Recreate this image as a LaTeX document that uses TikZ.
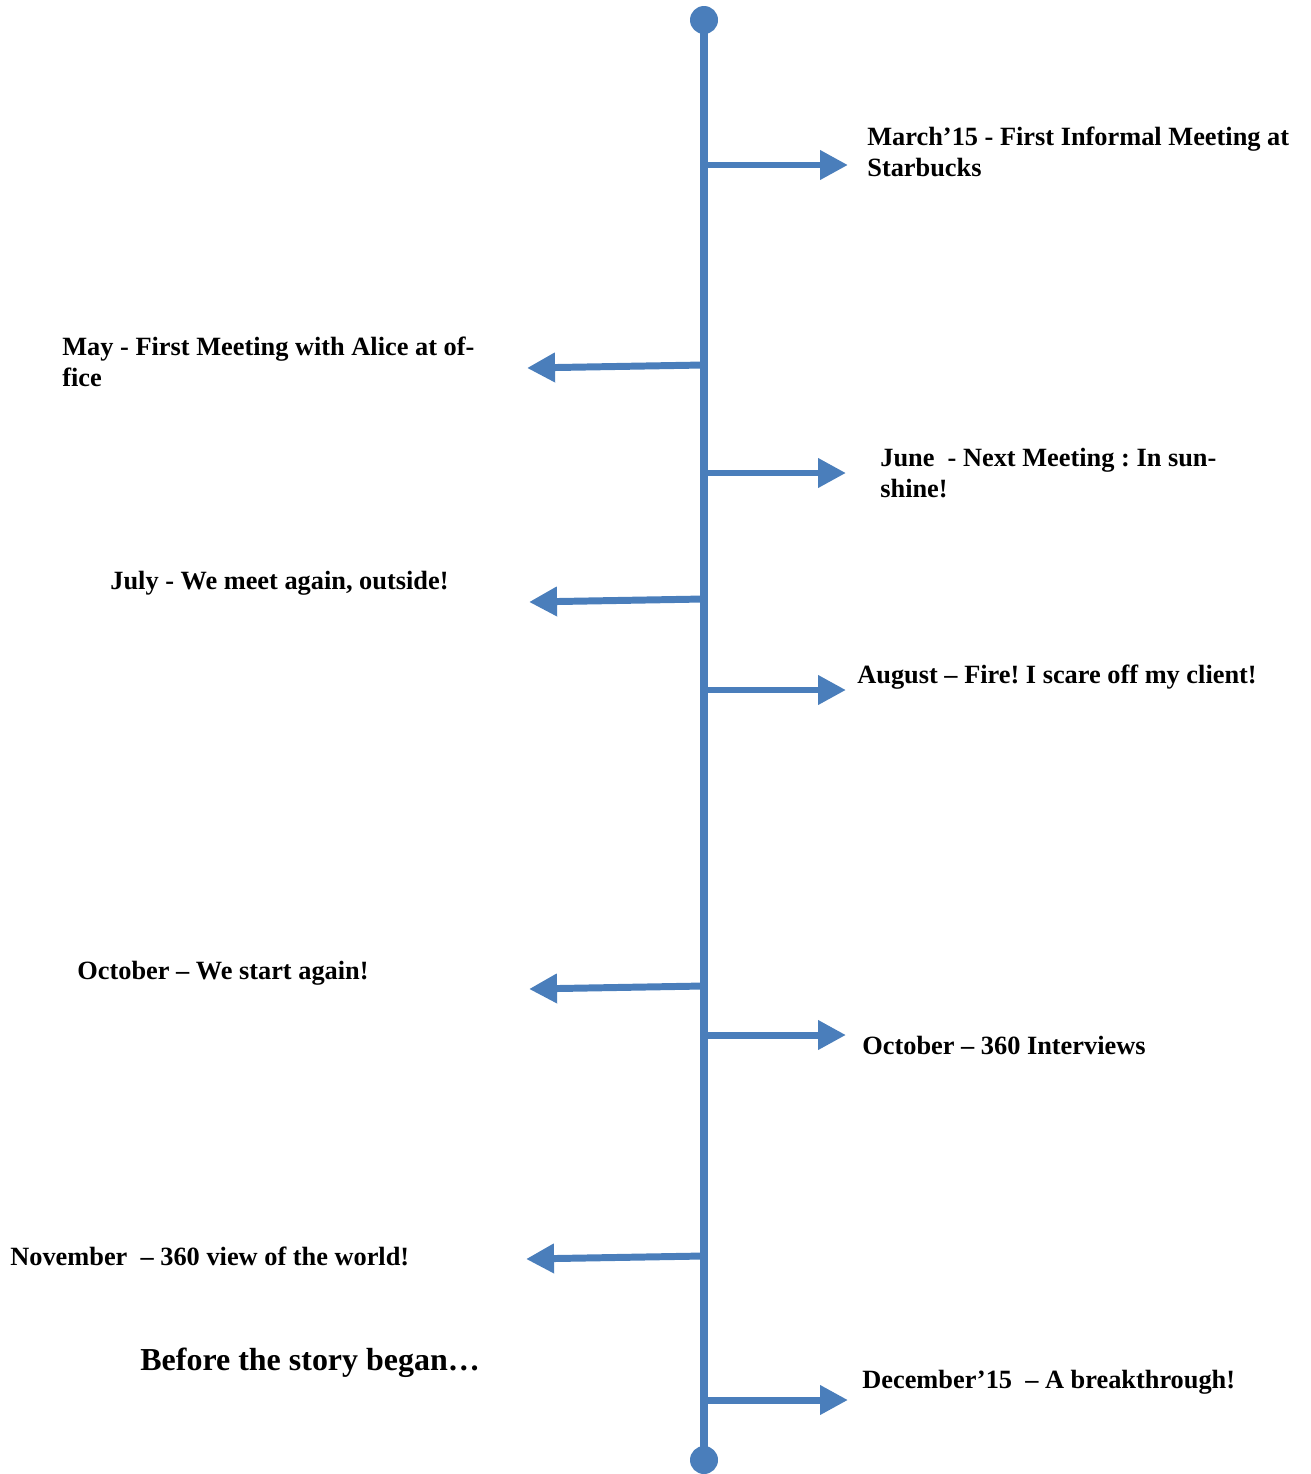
\documentclass[tikz,border=0pt]{standalone}
\usepackage{fontspec}
\setmainfont{Liberation Serif}
\frenchspacing
\usetikzlibrary{arrows.meta}
\definecolor{tlblue}{RGB}{74,126,187}
\tikzset{
  spine/.style={line width=8pt*0.5669,tlblue},
  evarr/.style={-{Triangle[length=0.56cm,width=0.56cm]},line width=7pt*0.5669,tlblue},
  enddot/.style={circle,fill=tlblue,minimum size=0.56cm,inner sep=0pt},
  evlbl/.style={anchor=base west,align=left,inner sep=0pt,
    font=\bfseries\fontsize{15}{17.2}\selectfont},
}

\begin{document}
\begin{tikzpicture}[x=0.02cm,y=-0.02cm]
  \useasboundingbox (0,0) rectangle (1311,1474);
  % the time line
  \node[enddot] (top) at (704,20) {};
  \node[enddot] (bot) at (704,1460) {};
  \draw[spine] (top.center) -- (bot.center);
  % right-hand events
  \coordinate (r1) at (704,165);  \coordinate (r1e) at (848,165);
  \coordinate (r2) at (704,473);  \coordinate (r2e) at (846,473);
  \coordinate (r3) at (704,690);  \coordinate (r3e) at (846,690);
  \coordinate (r4) at (704,1035); \coordinate (r4e) at (846,1035);
  \coordinate (r5) at (704,1400); \coordinate (r5e) at (848,1400);
  \foreach \i in {1,...,5}{\draw[evarr] (r\i) -- (r\i e);}
  % left-hand events
  \coordinate (l1) at (704,365);  \coordinate (l1e) at (527,368);
  \coordinate (l2) at (704,599);  \coordinate (l2e) at (529,602);
  \coordinate (l3) at (704,986);  \coordinate (l3e) at (529,989);
  \coordinate (l4) at (704,1256); \coordinate (l4e) at (526,1259);
  \foreach \i in {1,...,4}{\draw[evarr] (l\i) -- (l\i e);}
  % labels (two-line ones sit on their last line)
  \node[evlbl] (mar) at (867,176) {March’15 - First Informal Meeting at\\Starbucks};
  \node[evlbl] (may) at (62,386) {May - First Meeting with Alice at of-\\fice};
  \node[evlbl] (jun) at (880,497) {June\ \ - Next Meeting : In sun-\\shine!};
  \node[evlbl] (jul) at (110,589) {July - We meet again, outside!};
  \node[evlbl] (aug) at (857,683) {August – Fire! I scare off my client!};
  \node[evlbl] (octl) at (77,979) {October – We start again!};
  \node[evlbl] (octr) at (862,1054) {October – 360 Interviews};
  \node[evlbl] (nov) at (10,1265) {November\ \ – 360 view of the world!};
  \node[evlbl] (dec) at (862,1388) {December’15\ \ – A breakthrough!};
  \node[evlbl,font=\bfseries\fontsize{18.2}{21}\selectfont] (title) at (140,1370) {Before the story began…};
\end{tikzpicture}
\end{document}
